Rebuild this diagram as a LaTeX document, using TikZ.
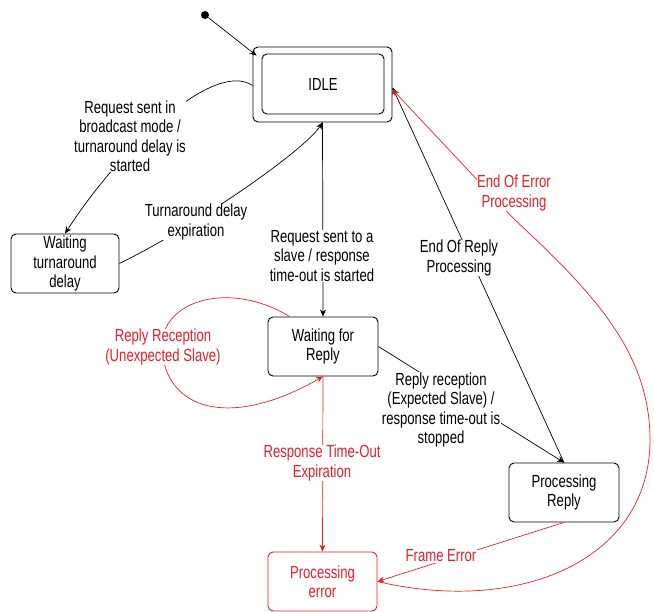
\documentclass[tikz,border=0pt]{standalone}
\usepackage{fontspec}
\setmainfont{Liberation Sans}[FakeStretch=0.75]
\usetikzlibrary{arrows.meta}
\definecolor{myred}{RGB}{228,32,40}
\begin{document}
\begin{tikzpicture}[x=1pt,y=-1pt,
  every node/.style={font=\fontsize{17.5}{19.5}\selectfont},
  state/.style={draw, rounded corners=5pt, align=center, line width=0.9pt, inner sep=0pt},
  lbl/.style={fill=white, align=center, inner sep=0.5pt},
  conn/.style={line width=0.7pt, -{Stealth[length=7pt,width=6pt]}},
  redc/.style={conn, myred}]
\useasboundingbox (0,0) rectangle (654,612);
% states
\node[circle, fill, inner sep=0pt, minimum size=8pt] (init) at (205,15) {};
\node[state, minimum width=139pt, minimum height=75pt] (idleo) at (322.5,84.5) {};
\node[state, minimum width=122pt, minimum height=60pt] (idle) at (323,84) {IDLE};
\node[state, minimum width=108pt, minimum height=59pt] (wt) at (65,263.5) {Waiting\\turnaround\\delay};
\node[state, minimum width=110pt, minimum height=59pt] (wr) at (323,346.5) {Waiting for\\Reply};
\node[state, minimum width=110pt, minimum height=59pt] (pr) at (564,492.5) {Processing\\Reply};
\node[state, draw=myred, text=myred, minimum width=109pt, minimum height=59pt] (pe) at (322.5,581.5) {Processing\\error};
% connectors
\draw[conn] (init) -- ([xshift=4pt,yshift=-9pt]idleo.north west);
\draw[conn] ([yshift=-1pt]idleo.west) .. controls (215,60) and (123,144) .. (wt.north);
\draw[conn] (wt.east) .. controls (196,226) and (305,150) .. (idleo.south);
\draw[conn] (idleo.south) -- (wr.north);
\draw[conn] (wr.east) -- (pr.north);
\draw[conn] (pr.north) -- ([yshift=-3pt]idleo.east);
\draw[redc] (pe.east) .. controls (520,615) and (650,560) .. (650,440)
   .. controls (650,350) and (590,290) .. (513,218) -- ([yshift=-5pt]idleo.east);
\draw[redc] (pr.south) -- (pe.east);
\draw[redc] (wr.south) -- (pe.north);
\draw[redc] ([xshift=22pt]wr.north west) .. controls (230,280) and (160,300) .. (162,348)
   .. controls (165,410) and (230,430) .. (wr.south);
% labels
\node[lbl] (l1) at (130,136) {Request sent in\\broadcast mode /\\turnaround delay is\\started};
\node[lbl] (l2) at (196,222) {Turnaround delay\\expiration};
\node[lbl] (l3) at (322,256) {Request sent to a\\slave / response\\time-out is started};
\node[lbl] (l4) at (441,410) {Reply reception\\(Expected Slave) /\\response time-out is\\stopped};
\node[lbl] (l5) at (459,258) {End Of Reply\\Processing};
\node[lbl, text=myred] (l6) at (514,193) {End Of Error\\Processing};
\node[lbl, text=myred] (l7) at (441,556) {Frame Error};
\node[lbl, text=myred] (l8) at (322,463) {Response Time-Out\\Expiration};
\node[lbl, text=myred] (l9) at (163,347) {Reply Reception\\(Unexpected Slave)};
\end{tikzpicture}
\end{document}
